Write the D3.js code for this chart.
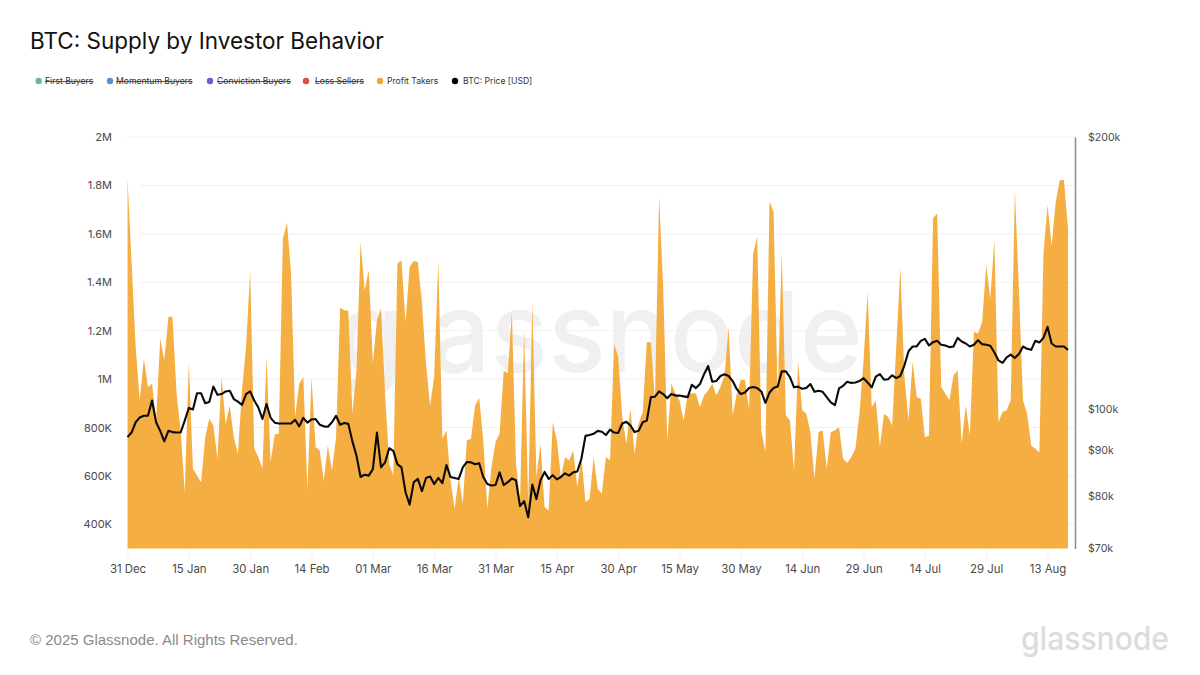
<!DOCTYPE html>
<html><head><meta charset="utf-8">
<script src="https://cdn.jsdelivr.net/npm/d3@7"></script>
<style>
html,body{margin:0;padding:0;background:#fff}
svg{display:block}
text{font-family:Inter,"Noto Sans",sans-serif}
</style></head><body>
<svg id="c" width="1200" height="675"></svg>
<script>
const titleText = "BTC: Supply by Investor Behavior";
const footerText = "© 2025 Glassnode. All Rights Reserved.";
const brandText = "glassnode";
const startDate = "2024-12-31";
const legendNames = ["First Buyers","Momentum Buyers","Conviction Buyers","Loss Sellers","Profit Takers","BTC: Price [USD]"];
const legendColors = ["#6fb79a","#5b8fd0","#6d5bd6","#d9503f","#f0a630","#000000"];
const legendStruck = [true,true,true,true,false,false];
const xTickDates = ["2024-12-31","2025-01-15","2025-01-30","2025-02-14","2025-03-01","2025-03-16","2025-03-31","2025-04-15","2025-04-30","2025-05-15","2025-05-30","2025-06-14","2025-06-29","2025-07-14","2025-07-29","2025-08-13"];
const leftTicks = [400000,600000,800000,1000000,1200000,1400000,1600000,1800000,2000000];
const leftTickLabels = ["400K","600K","800K","1M","1.2M","1.4M","1.6M","1.8M","2M"];
const rightTicks = [70000,80000,90000,100000,200000];
const rightTickLabels = ["$70k","$80k","$90k","$100k","$200k"];
// Profit Takers supply, thousands of BTC, daily
const profitTakers = [1829,1480,1133,912,1084,967,981,830,1167,1078,1257,1257,940,788,533,1071,629,602,574,760,836,808,671,1008,815,891,760,691,953,1133,1450,712,678,629,1091,657,771,774,1581,1646,1436,843,981,1008,547,1008,719,705,581,726,622,760,1295,1284,1282,857,1036,1567,1367,1450,1064,1243,1291,940,650,602,1477,1491,1236,1464,1488,1484,1312,1064,891,1008,1491,753,788,581,464,595,485,747,753,891,923,747,464,636,740,774,1033,1025,1277,650,498,1202,485,1319,595,733,471,457,822,747,595,678,664,705,553,678,491,505,678,547,526,678,664,1146,1091,843,733,877,691,815,864,1153,1151,912,1753,1381,747,981,940,912,829,940,940,940,884,933,953,981,933,967,1015,1215,850,940,998,995,877,1519,1588,788,698,1732,1691,926,1526,850,829,622,1071,871,857,781,588,781,788,629,781,788,802,671,653,678,712,857,1077,1360,884,912,719,857,843,808,1133,1464,1008,829,1071,926,919,760,767,1664,1684,967,940,912,1015,1036,733,891,767,1195,1188,1236,1470,1333,1574,822,864,871,912,1781,1367,912,857,726,712,698,1519,1719,1553,1732,1822,1822,1620];
// BTC price, thousands of USD, daily
const btcPrice = [93.0,94.1,96.6,97.8,98.2,98.2,102.1,96.6,94.5,92.0,94.5,94.2,94.1,94.1,97.0,100.2,99.8,104.0,104.0,101.4,101.7,105.8,103.6,103.8,104.5,104.7,102.5,101.8,101.0,103.8,104.5,102.1,100.3,97.4,101.2,97.7,96.5,96.3,96.3,96.3,96.3,97.2,95.6,97.7,96.5,97.3,97.4,96.0,95.6,95.5,96.6,98.2,96.0,96.4,96.2,92.0,88.7,84.0,84.5,84.3,85.7,94.1,86.1,87.2,90.4,89.8,86.8,86.1,80.8,78.3,82.9,83.6,81.0,83.8,84.1,82.5,83.8,82.7,86.6,84.0,83.8,83.6,86.1,87.3,87.2,86.8,87.0,84.0,82.5,82.2,82.3,85.0,82.3,82.9,83.7,83.3,78.0,79.0,75.8,82.4,79.4,83.3,85.1,83.6,84.4,83.5,84.0,84.8,84.3,85.0,85.2,88.0,93.3,93.5,93.8,94.5,94.3,93.5,94.8,94.1,94.0,96.3,96.7,95.8,94.2,94.5,96.6,97.0,103.0,103.1,104.5,103.8,102.7,103.8,103.4,103.4,103.2,103.0,106.3,105.4,106.5,109.2,111.5,107.1,107.3,108.7,109.2,108.7,107.3,105.1,103.8,104.2,105.4,105.7,105.4,104.5,101.5,104.2,105.4,105.8,110.0,110.0,108.4,105.6,105.8,105.2,105.4,106.5,104.4,104.7,104.4,103.0,101.6,100.9,105.3,106.0,107.1,106.8,106.9,107.3,108.1,106.9,105.6,108.5,109.2,107.7,107.8,108.9,108.1,108.7,111.7,115.8,117.2,117.2,118.9,119.5,117.5,118.5,118.9,117.7,117.5,117.0,117.2,119.8,118.7,118.1,117.2,117.7,119.1,117.9,117.7,117.4,115.4,113.1,112.4,114.0,114.8,113.8,115.0,117.2,116.5,116.2,118.9,118.4,119.8,123.2,118.1,117.2,117.2,117.2,116.2];

const svg = d3.select("#c");
const parse = d3.utcParse("%Y-%m-%d");
const fmt = d3.utcFormat("%d %b");
const dayOf = i => d3.utcDay.offset(parse(startDate), i);

const x = d3.scaleUtc().domain([parse(startDate), dayOf(profitTakers.length-1)]).range([127.5,1068]);
const yL = d3.scaleLinear().domain([300000,2000000]).range([548.5,137]);
const yR = d3.scaleLog().domain([70000,200000]).range([548.5,137]);

// grid
svg.append("g").selectAll("line").data(leftTicks).join("line")
  .attr("x1",(d,i)=>d===2000000?127:140).attr("x2",1075)
  .attr("y1",d=>yL(d)).attr("y2",d=>yL(d))
  .attr("stroke","#f1f1f1").attr("stroke-width",1);

// watermark
svg.append("text").text(brandText).attr("x",600).attr("y",372).attr("text-anchor","middle")
  .attr("font-size",112).attr("font-weight",500).attr("fill","#f0f0f0")
  .style("font-family","Inter,sans-serif").attr("textLength",525).attr("lengthAdjust","spacingAndGlyphs");

// area
const area = d3.area().x((d,i)=>x(dayOf(i))).y0(548.5).y1(d=>yL(d*1000));
svg.append("path").attr("d",area(profitTakers)).attr("fill","#f5ae42");

// price line
const line = d3.line().x((d,i)=>x(dayOf(i))).y(d=>yR(d*1000));
svg.append("path").attr("d",line(btcPrice)).attr("fill","none").attr("stroke","#0a0a0a")
  .attr("stroke-width",2.1).attr("stroke-linejoin","round");

// x axis
const gx = svg.append("g").attr("transform","translate(0,548.5)")
  .call(d3.axisBottom(x).tickValues(xTickDates.map(parse)).tickFormat(fmt).tickSize(10).tickPadding(6));
gx.select(".domain").remove();
gx.selectAll(".tick line").attr("stroke","#f1f1f1");
gx.selectAll("text").attr("fill","#4a4a4a").attr("font-size",11.4);

// left axis
const gl = svg.append("g").attr("transform","translate(112,0)")
  .call(d3.axisLeft(yL).tickValues(leftTicks).tickFormat((d,i)=>leftTickLabels[i]).tickSize(0).tickPadding(0));
gl.select(".domain").remove();
gl.selectAll("text").attr("fill","#4a4a4a").attr("font-size",11);

// right axis
const gr = svg.append("g").attr("transform","translate(1075,0)")
  .call(d3.axisRight(yR).tickValues(rightTicks).tickFormat((d,i)=>rightTickLabels[i]).tickSize(0).tickPadding(13));
gr.select(".domain").attr("stroke","#8c8c8c").attr("stroke-width",1.5);
gr.selectAll("text").attr("fill","#4a4a4a").attr("font-size",10.6);

// title
svg.append("text").text(titleText).attr("x",30).attr("y",49).attr("font-size",22.5).attr("fill","#111");

// legend
const legendDotX = [38.7,110,210,306,380,455];
const legendTextX = [45,116,217,315,387,463];
const lg = svg.append("g").selectAll("g").data(legendNames).join("g");
lg.append("circle").attr("cx",(d,i)=>legendDotX[i]).attr("cy",81).attr("r",3.2).attr("fill",(d,i)=>legendColors[i]);
lg.append("text").text(d=>d).attr("x",(d,i)=>legendTextX[i]).attr("y",84.3).attr("font-size",8.6).attr("fill","#333")
  .attr("text-decoration",(d,i)=>legendStruck[i]?"line-through":null);

// footer
svg.append("text").text(footerText).attr("x",30).attr("y",645).attr("font-size",15).attr("fill","#8a8a8a")
  .style("font-family","Liberation Sans,Arial,sans-serif");
svg.append("text").text(brandText).attr("x",1169).attr("y",650).attr("text-anchor","end")
  .attr("font-size",32).attr("font-weight",500).attr("fill","#dcdcdc").style("font-family","Inter,sans-serif")
  .attr("textLength",148).attr("lengthAdjust","spacingAndGlyphs");
</script>
</body></html>
